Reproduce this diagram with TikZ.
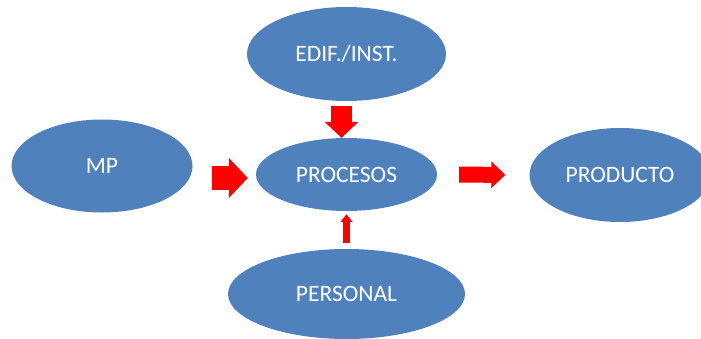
\documentclass[tikz,border=0pt]{standalone}
\usepackage{fontspec}
\setmainfont{Carlito}
\usetikzlibrary{shapes.geometric, arrows.meta}
\definecolor{ovalblue}{RGB}{79,129,189}

\begin{document}
\begin{tikzpicture}[
  x=1pt, y=-1pt,
  oval/.style={ellipse, fill=ovalblue, text=white, inner sep=0pt, font=\fontsize{23.5}{28}\selectfont},
  fat/.style n args={3}{draw=red, line width=#1, -{Triangle[length=#2, width=#3]}}
]
\clip (0,0) rectangle (701,339);

% Nodes
\node[oval, minimum width=181pt, minimum height=93pt] (mp) at (102,166) {MP};
\node[oval, minimum width=199pt, minimum height=94pt] (edif) at (346.5,54) {EDIF./INST.};
\node[oval, minimum width=181pt, minimum height=73pt] (proc) at (346.5,174.5) {PROCESOS};
\node[oval, minimum width=237pt, minimum height=90pt] (pers) at (346.5,294) {PERSONAL};
\node[oval, minimum width=181pt, minimum height=94pt] (prod) at (620,175) {PRODUCTO};

% Pointers
\draw[fat={24pt}{19pt}{39pt}, shorten <=19pt, shorten >=8pt] ([yshift=-3.5pt]proc.west -| mp.east) -- ([yshift=-3.5pt]proc.west);
\draw[fat={21pt}{16pt}{33pt}, shorten <=5pt] ([xshift=-5pt]edif.south) -- ([xshift=-5pt]proc.north);
\draw[fat={7pt}{8pt}{12pt}, shorten <=6pt, shorten >=3pt] (pers.north) -- (proc.south);
\draw[fat={16pt}{14pt}{26pt}, shorten <=22pt, shorten >=24pt] (proc.east) -- (prod.west);

\end{tikzpicture}
\end{document}
